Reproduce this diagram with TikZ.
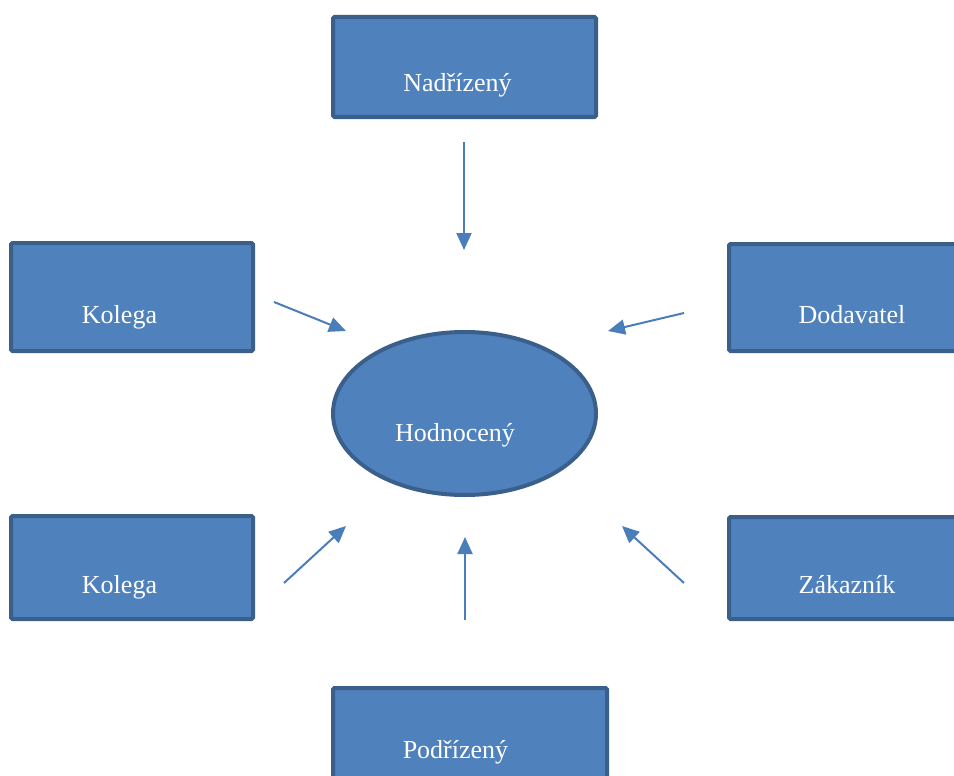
\documentclass[tikz,border=0pt]{standalone}
\usepackage{fontspec}
\setmainfont{Liberation Serif}
\usetikzlibrary{arrows.meta,shapes.geometric}
\definecolor{boxfill}{HTML}{4F81BD}
\definecolor{boxline}{HTML}{3A5F8B}
\definecolor{arrowcol}{HTML}{4A7EBB}
\tikzset{
  rolebox/.style={draw=boxline,fill=boxfill,line width=4pt,rounded corners=1.5pt,inner sep=0pt},
  rolelbl/.style={anchor=base,text=white,font=\fontsize{26}{30}\selectfont,inner sep=0pt},
  toward/.style={draw=arrowcol,line width=2pt,-{Triangle[length=17pt,width=15pt]}}
}
\begin{document}
\begin{tikzpicture}[x=1pt,y=-1pt]
  \useasboundingbox (0,0) rectangle (954,776);
  \clip (0,0) rectangle (954,776);
  \draw
    (464.5,67) node[rolebox,minimum width=263pt,minimum height=100pt] (sup){}
    (132,297) node[rolebox,minimum width=242pt,minimum height=108pt] (col1){}
    (132,567.5) node[rolebox,minimum width=242pt,minimum height=103pt] (col2){}
    (863,297.5) node[rolebox,minimum width=268pt,minimum height=107pt] (sppl){}
    (863,568) node[rolebox,minimum width=268pt,minimum height=102pt] (cust){}
    (470,736) node[rolebox,minimum width=274pt,minimum height=96pt] (sub){}
    (464.5,413.5) node[rolebox,ellipse,minimum width=263pt,minimum height=163pt] (eval){};
  \draw
    (457.5,92) node[rolelbl] (suplbl){Nadřízený}
    (119.5,323) node[rolelbl] (col1lbl){Kolega}
    (119.5,593) node[rolelbl] (col2lbl){Kolega}
    (852,323) node[rolelbl] (sppllbl){Dodavatel}
    (847,593) node[rolelbl] (custlbl){Zákazník}
    (455.5,758) node[rolelbl] (sublbl){Podřízený}
    (455,441) node[rolelbl] (evallbl){Hodnocený};
  \coordinate (s1) at (464,142);  \coordinate (e1) at (464,250);
  \coordinate (s2) at (274,302);  \coordinate (e2) at (346,331);
  \coordinate (s3) at (684,313);  \coordinate (e3) at (608,331);
  \coordinate (s4) at (284,583);  \coordinate (e4) at (346,526);
  \coordinate (s5) at (465,620);  \coordinate (e5) at (465,537);
  \coordinate (s6) at (684,583);  \coordinate (e6) at (622,526);
  \begin{scope}[toward]
    \draw (s1) to (e1);
    \draw (s2) to (e2);
    \draw (s3) to (e3);
    \draw (s4) to (e4);
    \draw (s5) to (e5);
    \draw (s6) to (e6);
  \end{scope}
\end{tikzpicture}
\end{document}
